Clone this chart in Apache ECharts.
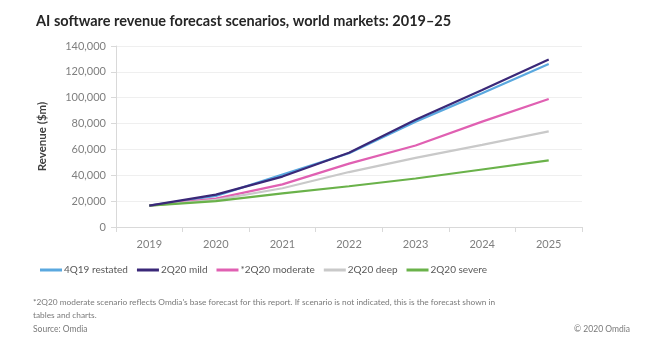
<!DOCTYPE html>
<html><head><meta charset="utf-8">
<script src="https://cdn.jsdelivr.net/npm/echarts@6/dist/echarts.min.js"></script>
<style>html,body{margin:0;padding:0;background:#fff}#c{width:658px;height:355px}</style>
</head><body><div id="c"></div>
<script>
const years = ['2019','2020','2021','2022','2023','2024','2025'];
const restated = [16500, 24000, 40500, 57000, 81500, 103500, 126000];
const mild     = [16500, 25000, 39000, 57500, 83000, 106000, 129500];
const moderate = [16500, 22000, 33000, 49000, 63000, 81500, 99000];
const deep     = [16500, 21000, 30000, 42500, 53500, 63500, 74000];
const severe   = [16500, 20000, 26000, 31500, 37500, 44500, 51500];
const yTicks = [0, 20000, 40000, 60000, 80000, 100000, 120000, 140000];
const names = ['4Q19 restated','2Q20 mild','*2Q20 moderate','2Q20 deep','2Q20 severe'];
const colors = ['#5aa8df','#3a2878','#e060b2','#c9c9c9','#6ab24a'];
const allData = [restated, mild, moderate, deep, severe];

const font = 'Lato, "Open Sans", sans-serif';
const chart = echarts.init(document.getElementById('c'), null, {renderer:'canvas'});
chart.setOption({
  animation:false,
  textStyle:{fontFamily:font},
  title:{text:'AI software revenue forecast scenarios, world markets: 2019\u201325', left:31, top:9,
    textStyle:{fontSize:14.5, fontWeight:'bold', color:'#262626', fontFamily:font}},
  graphic:[
    {type:'text', left:33, top:296, style:{text:"*2Q20 moderate scenario reflects Omdia's base forecast for this report. If scenario is not indicated, this is the forecast shown in\ntables and charts.", font:'8.3px '+font, fill:'#7a7a7a', lineHeight:13}},
    {type:'text', left:33, top:325, style:{text:'Source: Omdia', font:'8.5px '+font, fill:'#7a7a7a'}},
    {type:'text', right:28, top:325, style:{text:'\u00a9 2020 Omdia', font:'8.5px '+font, fill:'#7a7a7a'}}
  ],
  legend:{data:names, left:40, top:265, padding:0, itemWidth:22, itemHeight:3, itemGap:9, icon:'rect',
    textStyle:{fontSize:10, color:'#595959', fontFamily:font, padding:[0,0,0,-3]}},
  grid:{left:116, right:76, top:46, bottom:128},
  xAxis:{type:'category', data:years, boundaryGap:true,
    axisLine:{lineStyle:{color:'#d9d9d9'}}, axisTick:{show:true, lineStyle:{color:'#d9d9d9'}, length:5},
    axisLabel:{fontSize:11, color:'#7f7f7f', margin:12}},
  yAxis:{type:'value', min:0, max:140000, interval:20000,
    name:'Revenue ($m)', nameLocation:'middle', nameGap:68, nameRotate:90,
    nameTextStyle:{fontSize:11.5, fontWeight:'bold', color:'#404040'},
    axisLine:{show:true, lineStyle:{color:'#d9d9d9'}}, axisTick:{show:true, lineStyle:{color:'#d9d9d9'}, length:5},
    splitLine:{lineStyle:{color:'#efefef'}},
    axisLabel:{fontSize:11, color:'#7f7f7f', margin:10,
      formatter:v => yTicks.includes(v) ? v.toLocaleString('en-US') : ''}},
  series: names.map((n,i)=>({name:n, type:'line', data:allData[i], symbol:'none',
    lineStyle:{width:2.2, color:colors[i]}, itemStyle:{color:colors[i]}, z: i===1?5:3}))
});
</script></body></html>
